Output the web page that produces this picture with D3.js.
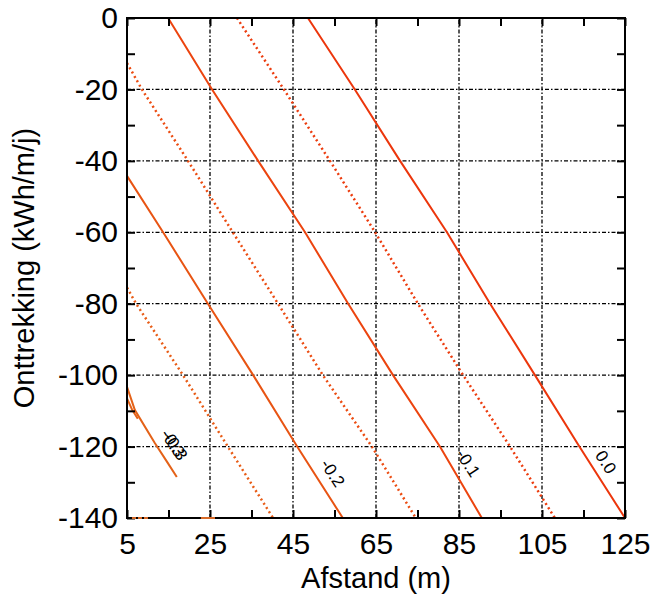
<!DOCTYPE html>
<html>
<head>
<meta charset="utf-8">
<script src="https://cdn.jsdelivr.net/npm/d3@7/dist/d3.min.js"></script>
<style>
  html, body { margin: 0; padding: 0; background: #fff; }
  svg { display: block; font-family: "Liberation Sans", Arial, sans-serif; }
</style>
</head>
<body>
<svg id="chart" width="655" height="596"></svg>
<script>
// Axis ranges and tick values
const xDomain = [5, 125];
const yDomain = [-140, 0];
const xTicksMajor = [5, 25, 45, 65, 85, 105, 125];
const xTicksMinor = [15, 35, 55, 75, 95, 115];
const yTicksMajor = [0, -20, -40, -60, -80, -100, -120, -140];
const yTicksMinor = [-10, -30, -50, -70, -90, -110, -130];

// Contour levels, [afstand, onttrekking] points along each iso-line
const level00 = [[48.6, 0], [59.9, -20], [70.8, -40], [82.1, -60], [92.5, -80], [103.3, -100], [114.0, -120], [125, -140]];
const level05 = [[31.5, 0], [42.8, -20], [53.9, -40], [64.8, -60], [75.1, -80], [86.0, -100], [97.3, -120], [108.1, -140]];
const level10 = [[14.9, 0], [25.5, -20], [36.6, -40], [47.9, -60], [58.3, -80], [69.1, -100], [80.4, -120], [90.5, -140], [92.5, -140]];
const level15 = [[5, -12.6], [8.6, -20], [19.7, -40], [30.5, -60], [41.4, -80], [52.2, -100], [64.0, -120], [74.6, -140]];
const level20 = [[5, -44.2], [13.7, -60], [24.5, -80], [35.4, -100], [46.0, -120], [57.0, -140], [58.5, -140]];
const level25 = [[5, -75.5], [7.2, -80], [18.5, -100], [29.3, -120], [40.2, -140]];
const level30a = [[5, -103.3], [6.9, -109.8], [11.7, -119], [14.5, -124], [17.0, -128.5]];
const level30b = [[5, -106.5], [6.2, -109.6], [7.6, -112.2]];
const edgeA = [[6.2, -140], [10.1, -140]];
const edgeB = [[22.8, -140], [26.2, -140]];

// Contour labels: text, x, y
const labelText = ["0.0", "-0.1", "-0.2", "-0.3", "-0.3"];
const labelX = [120.4, 87.2, 54.6, 16.1, 16.7];
const labelY = [-124.3, -124.6, -127.4, -119.0, -119.9];

const margin = { left: 127, top: 18, width: 498, height: 500 };
const svg = d3.select("#chart");
const x = d3.scaleLinear().domain(xDomain).range([margin.left, margin.left + margin.width]);
const y = d3.scaleLinear().domain(yDomain).range([margin.top + margin.height, margin.top]);

// Dash-dot grid
const grid = svg.append("g").attr("stroke", "#000").attr("stroke-width", 1.3)
  .attr("stroke-dasharray", "4,2,1.5,2");
xTicksMajor.filter(v => v > xDomain[0] && v < xDomain[1]).forEach(v => {
  grid.append("line").attr("x1", x(v)).attr("x2", x(v)).attr("y1", y(yDomain[0])).attr("y2", y(yDomain[1]));
});
yTicksMajor.filter(v => v > yDomain[0] && v < yDomain[1]).forEach(v => {
  grid.append("line").attr("y1", y(v)).attr("y2", y(v)).attr("x1", x(xDomain[0])).attr("x2", x(xDomain[1]));
});

// Contour lines
const line = d3.line().x(d => x(d[0])).y(d => y(d[1]));
const contours = [
  { pts: level00, color: "#ec360c", dash: null },
  { pts: level05, color: "#ec3c0e", dash: "2,3" },
  { pts: level10, color: "#ec440f", dash: null },
  { pts: level15, color: "#ec4c11", dash: "2,3" },
  { pts: level20, color: "#e85413", dash: null },
  { pts: level25, color: "#e85c16", dash: "2,3" },
  { pts: level30a, color: "#e46218", dash: null },
  { pts: level30b, color: "#e46218", dash: null }
];
const cg = svg.append("g").attr("fill", "none");
contours.forEach(c => {
  const p = cg.append("path").attr("d", line(c.pts)).attr("stroke", c.color)
    .attr("stroke-width", c.dash ? 2.5 : 2).attr("stroke-linejoin", "round");
  if (c.dash) p.attr("stroke-dasharray", c.dash);
});

// Contour labels
labelText.forEach((t, i) => {
  svg.append("text")
    .attr("transform", `translate(${x(labelX[i])},${y(labelY[i])}) rotate(57)`)
    .attr("text-anchor", "middle").attr("dy", "0.35em")
    .attr("font-size", 17).attr("fill", "#000").text(t);
});

// Axes with inward ticks
const xAll = xTicksMajor.concat(xTicksMinor).sort((a, b) => a - b);
const yAll = yTicksMajor.concat(yTicksMinor).sort((a, b) => a - b);
const fmtX = d => xTicksMajor.includes(d) ? d : "";
const fmtY = d => yTicksMajor.includes(d) ? d : "";

function styleAxis(g) {
  g.select(".domain").remove();
  g.selectAll(".tick line").attr("stroke", "#000").attr("stroke-width", 2);
  g.selectAll(".tick text").attr("font-size", 30).attr("fill", "#000")
    .attr("font-family", "'Liberation Sans', Arial, sans-serif");
}
svg.append("g").attr("transform", `translate(0,${y(yDomain[0])})`)
  .call(d3.axisBottom(x).tickValues(xAll).tickFormat(fmtX).tickSizeInner(-8).tickPadding(15))
  .call(styleAxis);
svg.append("g").attr("transform", `translate(0,${y(yDomain[1])})`)
  .call(d3.axisTop(x).tickValues(xAll).tickFormat("").tickSizeInner(-8))
  .call(styleAxis);
svg.append("g").attr("transform", `translate(${x(xDomain[0])},0)`)
  .call(d3.axisLeft(y).tickValues(yAll).tickFormat(fmtY).tickSizeInner(-8).tickPadding(9))
  .call(styleAxis);
svg.append("g").attr("transform", `translate(${x(xDomain[1])},0)`)
  .call(d3.axisRight(y).tickValues(yAll).tickFormat("").tickSizeInner(-8))
  .call(styleAxis);

// Plot frame
svg.append("rect").attr("x", x(xDomain[0])).attr("y", y(yDomain[1]))
  .attr("width", margin.width).attr("height", margin.height)
  .attr("fill", "none").attr("stroke", "#000").attr("stroke-width", 2);

// Contour pieces lying on the lower boundary, drawn over the frame
const eg = svg.append("g").attr("fill", "none");
eg.append("path").attr("d", line(edgeA)).attr("stroke", "#d86a28")
  .attr("stroke-width", 2).attr("stroke-dasharray", "4,2");
eg.append("path").attr("d", line(edgeB)).attr("stroke", "#d86a28")
  .attr("stroke-width", 2);

// Axis titles
svg.append("text").attr("x", margin.left + margin.width / 2).attr("y", 588)
  .attr("text-anchor", "middle").attr("font-size", 29).text("Afstand (m)");
svg.append("text").attr("transform", `translate(34,${margin.top + margin.height / 2}) rotate(-90)`)
  .attr("text-anchor", "middle").attr("font-size", 29).text("Onttrekking (kWh/m/j)");
</script>
</body>
</html>
